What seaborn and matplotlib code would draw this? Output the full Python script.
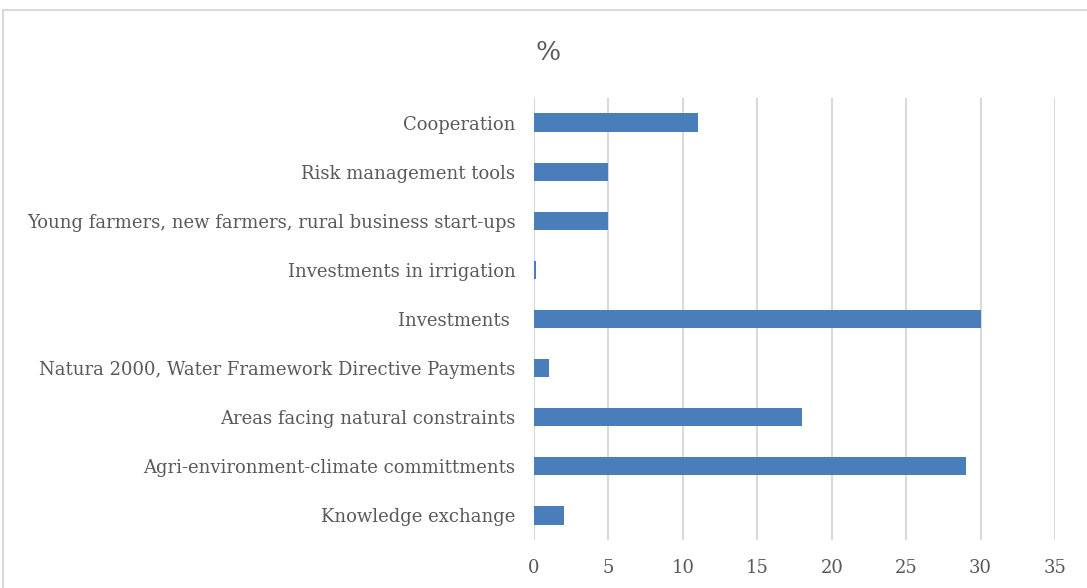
import pandas as pd
import seaborn as sns
from matplotlib import pyplot as plt
from matplotlib.patches import Rectangle

measures = ["Cooperation",
            "Risk management tools",
            "Young farmers, new farmers, rural business start-ups",
            "Investments in irrigation",
            "Investments ",
            "Natura 2000, Water Framework Directive Payments",
            "Areas facing natural constraints",
            "Agri-environment-climate committments",
            "Knowledge exchange"]
shares = [11, 5, 5, 0.1, 30, 1, 18, 29, 2]

df = pd.DataFrame({"measure": measures, "share": shares})

sns.set_theme(style="white")
plt.rcParams['font.family'] = ['DejaVu Serif']

fig = plt.figure(figsize=(10.87, 5.88), dpi=100)
ax = fig.add_axes([0.4913, 0.0816, 0.4793, 0.7517])

sns.barplot(data=df, x="share", y="measure", orient="h", color="#4a7ebb",
            saturation=1, width=0.37, linewidth=0, ax=ax)

ax.set_xlim(0, 35)
ax.set_xticks(range(0, 36, 5))
ax.xaxis.grid(True, color="#d9d9d9", linewidth=1.5)
ax.set_axisbelow(True)
for s in ax.spines.values():
    s.set_visible(False)
ax.tick_params(axis="both", length=0, colors="#595959", labelsize=13)
ax.tick_params(axis="x", pad=14)
ax.tick_params(axis="y", pad=13.5)
ax.set_xlabel("")
ax.set_ylabel("")

fig.text(0.504, 0.91, "%", ha="center", va="center", fontsize=19, color="#595959")

fig.patches.append(Rectangle((3 / 1087, -0.1), 1.2, 1 - 10 / 588 + 0.1,
                             transform=fig.transFigure, fill=False,
                             edgecolor="#d9d9d9", linewidth=1.5))

plt.savefig("out.png", dpi=100)
